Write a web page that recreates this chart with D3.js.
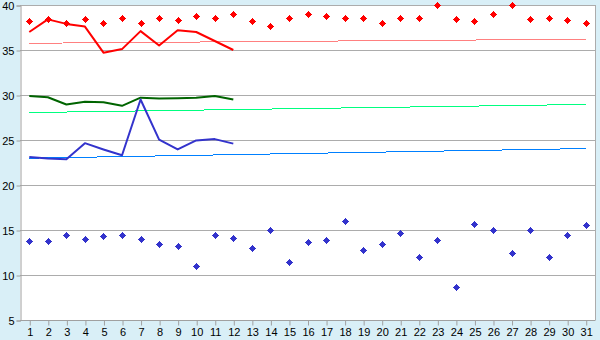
<!DOCTYPE html>
<html>
<head>
<meta charset="utf-8">
<script src="https://cdn.jsdelivr.net/npm/d3@7"></script>
<style>
  body { margin: 0; background: #d9eff7; }
  svg { display: block; font-family: "DejaVu Sans", Verdana, sans-serif; }
  .axis text { font-size: 11px; fill: #000; }
  .axis path, .axis line { stroke: #a0a0a0; }
</style>
</head>
<body>
<div id="app"></div>
<script>
const width = 600,
  height = 340;

// data
const days = d3.range(1, 32);
const yTicks = [5, 10, 15, 20, 25, 30, 35, 40];

const redDots = [38.2, 38.4, 38.0, 38.4, 38.0, 38.6, 38.0, 38.5, 38.3, 38.8,
  38.5, 39.0, 38.2, 37.7, 38.5, 39.0, 38.8, 38.5, 38.6, 38.0,
  38.6, 38.6, 40.0, 38.4, 38.2, 39.0, 40.0, 38.4, 38.5, 38.3, 38.0];
const redLine = [37.0, 38.4, 37.9, 37.6, 34.7, 35.1, 37.1, 35.5, 37.2, 37.0, 36.0, 35.0];
const redTrend = [35.75, 36.2];

const greenLine = [29.9, 29.75, 28.95, 29.25, 29.2, 28.8, 29.7, 29.6, 29.65, 29.7, 29.9, 29.5];
const greenTrend = [28.05, 28.95];

const blueLine = [23.1, 22.95, 22.85, 24.65, 23.95, 23.3, 29.5, 25.05, 23.95, 24.95, 25.1, 24.6];
const blueTrend = [22.98, 24.05];
const blueDots = [13.8, 13.8, 14.5, 13.95, 14.3, 14.5, 13.95, 13.5, 13.2, 11.0,
  14.5, 14.1, 13.0, 15.0, 11.4, 13.65, 13.85, 15.95, 12.75, 13.5,
  14.65, 11.95, 13.85, 8.65, 15.65, 15.0, 12.4, 15.0, 11.95, 14.5, 15.55];

const margin = { top: 5, right: 5, bottom: 20, left: 20 };

const x = d3.scalePoint()
  .domain(days)
  .range([margin.left, width - margin.right])
  .padding(0.5);

const y = d3.scaleLinear()
  .domain([5, 40])
  .range([height - margin.bottom, margin.top]);

const svg = d3.select("#app").append("svg")
  .attr("width", width)
  .attr("height", height);

// plot background
svg.append("rect")
  .attr("x", margin.left)
  .attr("y", margin.top)
  .attr("width", width - margin.left - margin.right)
  .attr("height", height - margin.top - margin.bottom)
  .attr("fill", "#fff");

// gridlines
svg.append("g")
  .selectAll("line")
  .data(yTicks)
  .join("line")
  .attr("x1", margin.left)
  .attr("x2", width - margin.right)
  .attr("y1", d => Math.round(y(d)) + 0.5)
  .attr("y2", d => Math.round(y(d)) + 0.5)
  .attr("stroke", "#acacac");

// right border
svg.append("line")
  .attr("x1", width - margin.right + 0.5)
  .attr("x2", width - margin.right + 0.5)
  .attr("y1", margin.top)
  .attr("y2", height - margin.bottom)
  .attr("stroke", "#acacac");

// axes
svg.append("g")
  .attr("class", "axis")
  .attr("transform", `translate(${margin.left + 0.5},0.5)`)
  .call(d3.axisLeft(y).tickValues(yTicks).tickSize(4).tickPadding(2))
  .call(g => g.selectAll("text").attr("font-size", 11).attr("dy", "0.32em"));

svg.append("g")
  .attr("class", "axis")
  .attr("transform", `translate(0.5,${height - margin.bottom + 0.5})`)
  .call(d3.axisBottom(x).tickSize(5).tickPadding(3).tickSizeOuter(0))
  .call(g => g.select(".domain").attr("d", `M${margin.left},0H${width - margin.right}`))
  .call(g => g.selectAll("text").attr("font-size", 11));

// trend lines
function trend(vals, color) {
  svg.append("path")
    .datum(vals.map((v, i) => [i ? days[days.length - 1] : days[0], v]))
    .attr("fill", "none")
    .attr("stroke", color)
    .attr("stroke-width", 1)
    .attr("shape-rendering", "crispEdges")
    .attr("d", d3.line().x(d => x(d[0])).y(d => y(d[1])));
}
trend(redTrend, "#ff8080");
trend(greenTrend, "#00ff80");
trend(blueTrend, "#0080ff");

// daily lines
function series(vals, color) {
  svg.append("path")
    .datum(vals)
    .attr("fill", "none")
    .attr("stroke", color)
    .attr("stroke-width", 2)
    .attr("stroke-linejoin", "round")
    .attr("d", d3.line().x((d, i) => x(days[i])).y(d => y(d)));
}
series(redLine, "#ff0000");
series(greenLine, "#006400");
series(blueLine, "#3333cc");

// markers: 7px stepped diamond
const cross = "M-0.5,-3.5h1v1h1v1h1v1h1v1h-1v1h-1v1h-1v1h-1v-1h-1v-1h-1v-1h-1v-1h1v-1h1v-1h1z";
function dots(vals, color) {
  svg.append("g")
    .selectAll("path")
    .data(vals)
    .join("path")
    .attr("transform", (d, i) => `translate(${Math.round(x(days[i])) + 0.5},${Math.round(y(d)) + 0.5})`)
    .attr("d", cross)
    .attr("shape-rendering", "crispEdges")
    .attr("fill", color);
}
dots(redDots, "#ff0000");
dots(blueDots, "#3333cc");
</script>
</body>
</html>
